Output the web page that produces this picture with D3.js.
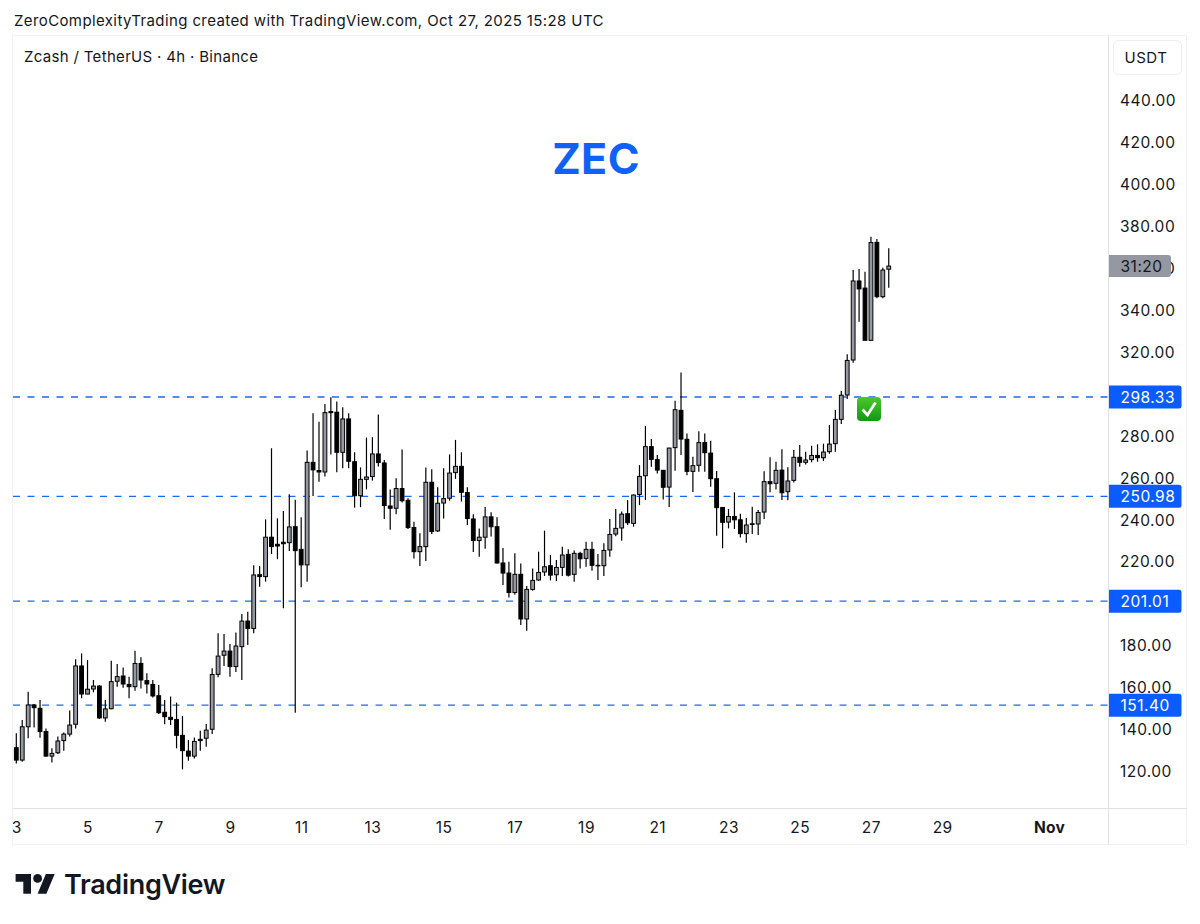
<!DOCTYPE html>
<html lang="en">
<head>
<meta charset="utf-8">
<script src="https://cdn.jsdelivr.net/npm/d3@7"></script>
<style>
	html, body { margin: 0; background: #fff; }
	text { font-family: Inter, "Liberation Sans", sans-serif; fill: #131722; }
	.axis .domain { display: none; }
	.axis line { display: none; }
	.axis text { font-family: Inter, "Liberation Sans", sans-serif; font-size: 15.5px; letter-spacing: 0.5px; fill: #131722; }
</style>
</head>
<body>
<svg id="chart" width="1200" height="924"></svg>
<script>
	// 4h candles, first one opens Oct 3 00:00 UTC
	const opens = [131.1,125.2,141.1,151.5,149.9,138.8,127.1,128.7,134.5,137.6,142.3,170.1,156.7,159.1,160.5,145.3,149.7,162.8,165.3,161.3,160.2,171.3,163.1,161.3,155.9,148.0,145.6,144.6,137.0,129.5,127.1,135.1,135.6,139.9,166.1,175.2,177.2,169.8,179.3,191.5,188.0,213.6,212.7,231.5,228.1,229.1,228.9,236.5,225.7,218.3,267.2,263.3,262.6,291.4,291.1,272.0,287.9,267.5,251.3,259.1,260.4,271.2,266.9,246.4,245.3,254.7,249.1,236.1,224.6,227.0,257.7,234.5,247.8,250.1,262.3,265.3,252.8,240.2,229.9,231.5,241.2,236.5,219.2,214.4,205.1,213.8,192.5,206.6,211.1,214.9,217.9,213.6,217.1,223.3,213.8,223.8,221.4,225.7,218.1,217.9,225.4,233.0,235.9,242.7,238.1,251.9,260.8,274.7,268.5,263.4,255.4,274.2,292.0,278.2,262.9,265.8,276.6,271.6,259.4,245.7,238.7,241.4,239.8,233.2,237.9,237.8,243.5,258.0,257.2,263.5,253.2,258.6,269.6,267.2,268.5,270.5,269.4,272.3,276.1,287.7,299.3,316.0,353.7,350.3,325.4,372.1,346.2,359.3];
	const highs = [138.0,144.3,157.8,152.0,153.9,140.3,130.8,136.4,138.4,148.8,173.3,176.1,172.9,163.4,161.0,153.9,172.6,171.0,169.4,165.0,177.4,174.2,166.6,163.4,161.0,153.9,155.5,152.6,146.2,134.8,136.0,139.2,142.4,169.0,185.7,185.3,180.6,186.1,194.9,196.0,218.1,217.8,240.0,273.9,240.5,244.0,252.0,249.3,241.0,272.8,290.6,286.5,295.0,298.2,296.2,293.5,290.6,272.0,264.8,279.0,279.2,290.0,268.3,254.3,259.6,273.3,250.1,238.9,233.4,264.7,263.9,255.3,264.4,271.0,277.9,272.0,255.3,242.4,235.7,245.9,243.4,241.0,226.4,219.8,223.8,219.0,208.2,216.6,224.6,234.6,223.0,220.6,227.0,225.8,225.1,224.6,229.3,229.3,223.5,228.6,240.2,244.9,243.7,249.2,251.9,265.9,284.5,278.3,270.7,263.5,274.2,296.6,310.1,281.0,269.9,282.0,281.0,277.5,263.1,245.9,244.9,252.9,242.7,240.6,246.0,244.5,262.9,269.6,267.5,273.4,264.8,273.1,275.5,272.3,275.1,275.8,276.1,285.0,292.2,301.2,318.7,358.9,359.4,358.1,374.8,373.7,360.0,369.3];
	const lows = [123.6,124.4,135.6,140.7,135.9,126.8,124.1,128.1,129.7,136.4,140.3,154.7,156.6,157.5,144.8,143.5,149.4,160.2,159.7,154.7,158.3,159.4,157.0,155.1,147.2,142.3,141.9,130.8,120.8,124.9,126.0,129.7,131.6,137.6,164.7,170.1,165.0,167.2,163.4,180.1,185.7,207.9,210.3,223.5,221.0,197.6,224.9,147.8,207.6,210.3,251.2,258.0,260.4,270.9,262.5,264.4,264.4,245.6,245.8,254.3,258.5,265.2,240.2,235.0,242.4,248.0,235.4,221.4,217.8,220.2,233.0,234.0,240.4,248.9,259.3,248.5,237.3,224.5,222.2,226.0,231.8,219.0,208.7,202.7,204.0,189.6,186.9,206.0,210.7,213.0,210.9,210.6,213.0,212.7,210.3,216.6,217.4,215.5,211.1,213.0,222.2,232.0,229.8,237.3,236.5,246.8,249.2,265.1,261.9,249.5,245.9,263.2,270.7,261.1,253.0,262.7,262.7,255.6,232.2,226.2,235.7,235.4,231.4,228.9,233.0,232.5,240.2,252.9,254.3,249.2,249.1,257.6,265.1,266.2,267.2,267.5,267.8,271.3,272.3,285.5,297.4,314.7,334.3,325.4,325.1,345.4,345.4,350.5];
	const closes = [125.2,141.1,151.5,150.2,138.8,127.1,128.4,134.3,137.6,141.9,170.1,156.7,159.0,160.5,145.3,149.6,162.6,165.0,161.5,160.2,171.3,163.4,161.5,155.8,147.8,145.9,144.6,137.0,129.7,127.1,134.1,134.5,139.5,166.0,174.8,177.2,169.8,179.6,191.5,188.0,213.5,212.7,231.5,227.0,227.3,228.4,236.4,225.1,218.3,267.2,263.6,262.6,290.9,290.9,272.0,287.9,267.7,251.3,259.1,260.2,271.2,267.1,246.6,245.3,254.7,248.9,236.1,224.6,227.0,257.7,234.2,247.7,249.9,262.1,265.3,252.9,240.4,229.9,231.5,241.2,236.5,219.2,214.4,205.1,213.8,192.5,206.6,210.9,214.7,217.4,213.4,217.1,223.0,213.4,223.8,221.2,225.7,218.1,217.9,225.2,232.8,235.7,242.5,238.4,251.6,260.5,274.7,268.6,263.5,255.3,274.0,292.3,278.3,262.9,265.6,276.6,271.8,259.4,245.6,238.6,241.4,239.8,233.2,237.3,237.6,243.3,258.0,257.0,263.4,252.7,258.3,269.6,267.2,268.3,270.5,269.4,272.1,275.9,287.7,299.2,315.8,353.7,349.9,325.4,372.0,346.2,358.9,360.8];

	const priceTicks = [120,140,160,180,220,240,260,280,320,340,360,380,400,420,440];
	const levels = [298.33,250.98,201.01,151.40];
	const dayTicks = [3,5,7,9,11,13,15,17,19,21,23,25,27,29];

	const svg = d3.select('#chart');
	const paneLeft = 13, paneRight = 1108, paneTop = 36, paneBottom = 808, frameBottom = 845, frameRight = 1187;

	const x = d3.scaleUtc()
		.domain([Date.UTC(2025, 9, 3), Date.UTC(2025, 10, 1)])
		.range([16.3, 1049]);
	const y = d3.scaleLinear().domain([120, 440]).range([771, 100]);
	const FOUR_H = 4 * 3600 * 1000;
	const candleTime = i => Date.UTC(2025, 9, 3) + i * FOUR_H;

	svg.append('defs').append('clipPath').attr('id', 'pane')
		.append('rect')
		.attr('x', paneLeft).attr('y', paneTop)
		.attr('width', paneRight - paneLeft).attr('height', frameBottom - paneTop);

	const grad = svg.select('defs').append('linearGradient')
		.attr('id', 'tick').attr('x1', 0).attr('x2', 0).attr('y1', 0).attr('y2', 1);
	grad.append('stop').attr('offset', 0).attr('stop-color', '#4cc72a');
	grad.append('stop').attr('offset', 1).attr('stop-color', '#0e9a12');

	// header
	svg.append('text').attr('x', 14).attr('y', 26)
		.style('font-size', '15px').style('letter-spacing', '0.39px')
		.text('ZeroComplexityTrading created with TradingView.com, Oct 27, 2025 15:28 UTC');

	// frame
	const frame = svg.append('g').attr('stroke', '#e6e8ee').attr('fill', 'none');
	frame.append('rect').attr('x', paneLeft - 0.5).attr('y', paneTop - 0.5)
		.attr('width', frameRight - paneLeft).attr('height', frameBottom - paneTop)
		.attr('stroke', '#f0f1f4');
	frame.append('line').attr('x1', paneRight + 0.5).attr('x2', paneRight + 0.5).attr('y1', paneTop).attr('y2', frameBottom).attr('stroke', '#dfe1e7');
	frame.append('line').attr('x1', paneLeft).attr('x2', frameRight).attr('y1', paneBottom + 0.5).attr('y2', paneBottom + 0.5).attr('stroke', '#dfe1e7');

	svg.append('text').attr('x', 24).attr('y', 62)
		.style('font-size', '15px').style('letter-spacing', '0.32px').text('Zcash / TetherUS · 4h · Binance');

	svg.append('text').attr('x', 596).attr('y', 174).attr('text-anchor', 'middle')
		.style('font-size', '43px').style('font-weight', 700).style('letter-spacing', '0.4px').style('fill', '#0f62f5')
		.text('ZEC');

	// support / resistance levels
	svg.append('g').selectAll('line').data(levels).join('line')
		.attr('x1', paneLeft).attr('x2', paneRight)
		.attr('y1', d => y(d)).attr('y2', d => y(d))
		.attr('stroke', '#1f66f0').attr('stroke-width', 1.4)
		.attr('stroke-dasharray', '7 7.5');

	// candles
	const candles = svg.append('g').attr('clip-path', 'url(#pane)')
		.selectAll('g').data(d3.range(opens.length)).join('g')
		.attr('transform', i => `translate(${x(candleTime(i))},0)`);
	candles.append('line')
		.attr('y1', i => y(highs[i])).attr('y2', i => y(lows[i]))
		.attr('stroke', '#000').attr('stroke-width', 1.2);
	candles.append('rect')
		.attr('x', -1.9).attr('width', 3.8)
		.attr('y', i => y(Math.max(opens[i], closes[i])))
		.attr('height', i => Math.max(0.6, Math.abs(y(opens[i]) - y(closes[i]))))
		.attr('fill', i => closes[i] >= opens[i] ? '#9598a1' : '#000')
		.attr('stroke', '#000').attr('stroke-width', 1);

	// check mark badge
	const badge = svg.append('g').attr('transform', 'translate(857,397)');
	badge.append('rect').attr('width', 24).attr('height', 24).attr('rx', 4).attr('fill', 'url(#tick)');
	badge.append('path').attr('d', 'M5.5 12.5 L10.5 18 L18.5 5.5')
		.attr('fill', 'none').attr('stroke', '#fff').attr('stroke-width', 2.8);

	// price axis
	svg.append('g').attr('class', 'axis')
		.attr('transform', `translate(${paneRight},0.7)`)
		.call(d3.axisRight(y).tickValues(priceTicks).tickFormat(d3.format('.2f')).tickSize(0).tickPadding(12));

	// level tags
	const tags = svg.append('g').selectAll('g').data(levels).join('g')
		.attr('transform', d => `translate(${paneRight + 1},${y(d)})`);
	tags.append('path')
		.attr('d', 'M0 -11.5 H70 a2.5 2.5 0 0 1 2.5 2.5 V9 a2.5 2.5 0 0 1 -2.5 2.5 H0 Z')
		.attr('fill', '#0b5cff');
	tags.append('text').attr('x', 11.5).attr('y', 6)
		.style('font-size', '15.5px').style('letter-spacing', '0.5px').style('fill', '#fff')
		.text(d => d3.format('.2f')(d));

	// countdown label sits over the current price
	const countdown = svg.append('g').attr('transform', `translate(${paneRight + 1},266)`);
	countdown.append('path')
		.attr('d', 'M0 -11 H59 a3 3 0 0 1 3 3 V8 a3 3 0 0 1 -3 3 H0 Z')
		.attr('fill', '#9598a1');
	countdown.append('text').attr('x', 11.5).attr('y', 5.5)
		.style('font-size', '15.5px').style('letter-spacing', '0.5px').text('31:20');

	// unit button
	svg.append('rect').attr('x', 1113.5).attr('y', 40.5).attr('width', 68).attr('height', 34).attr('rx', 5)
		.attr('fill', '#fff').attr('stroke', '#eceef2');
	svg.append('text').attr('x', 1146).attr('y', 63).attr('text-anchor', 'middle')
		.style('font-size', '15px').style('letter-spacing', '0.5px').text('USDT');

	// time axis
	const tickDates = dayTicks.map(d => new Date(Date.UTC(2025, 9, d))).concat([new Date(Date.UTC(2025, 10, 1))]);
	const timeAxis = svg.append('g').attr('class', 'axis')
		.attr('transform', `translate(0,${paneBottom})`)
		.attr('clip-path', 'url(#xclip)')
		.call(d3.axisBottom(x).tickValues(tickDates).tickSize(0).tickPadding(14)
			.tickFormat(d => d.getUTCMonth() === 10 ? 'Nov' : d.getUTCDate()));
	timeAxis.selectAll('text').filter(d => d.getUTCMonth() === 10)
		.style('font-weight', 700).style('letter-spacing', '0.3px');
	svg.select('defs').append('clipPath').attr('id', 'xclip')
		.append('rect').attr('x', paneLeft).attr('y', 0).attr('width', 1100).attr('height', 40);

	// logo
	const logo = svg.append('g').attr('transform', 'translate(15.6,869.6) scale(1.1)').attr('fill', '#131722');
	logo.append('path').attr('d', 'M14 22H7V11H0V4h14v18zM28 22h-8l7.5-18h8L28 22z');
	logo.append('circle').attr('cx', 20).attr('cy', 8).attr('r', 4);
	svg.append('text').attr('x', 64).attr('y', 894)
		.style('font-size', '27px').style('font-weight', 600).style('letter-spacing', '-0.3px')
		.text('TradingView');
</script>
</body>
</html>
